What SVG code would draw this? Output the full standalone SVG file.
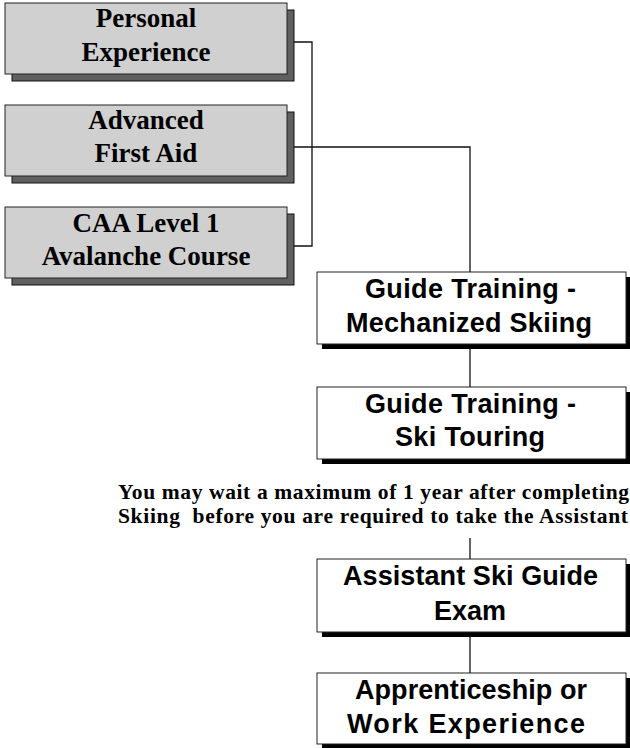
<svg xmlns="http://www.w3.org/2000/svg" width="630" height="748" viewBox="0 0 630 748">
<style>
.gbox{fill:#d0d0d0;stroke:#222;stroke-width:1}
.gsh{fill:#606060;stroke:#111;stroke-width:1}
.wbox{fill:#fff;stroke:#222;stroke-width:1}
.wsh{fill:#000}
.gt{font-family:"Liberation Serif","Times New Roman",serif;font-weight:bold;font-size:27px;fill:#000;text-anchor:middle}
.wt{font-family:"Liberation Sans",Arial,sans-serif;font-weight:bold;font-size:27px;fill:#000;text-anchor:middle}
.note{font-family:"Liberation Serif","Times New Roman",serif;font-weight:bold;font-size:21.5px;fill:#000;white-space:pre}
.conn{fill:none;stroke:#111;stroke-width:1.3}
</style>
<rect width="630" height="748" fill="#fff"/>
<g id="connectors">
<polyline class="conn" points="290,42 312,42 312,246 290,246"/>
<polyline class="conn" points="290,147 470,147 470,272"/>
<line class="conn" x1="470" y1="344" x2="470" y2="387"/>
<line class="conn" x1="470" y1="538" x2="470" y2="559"/>
<line class="conn" x1="470" y1="632" x2="470" y2="673"/>
</g>
<g id="personal-experience">
<rect class="gsh" x="12" y="10" width="282" height="71"/>
<rect class="gbox" x="5" y="3" width="282" height="71"/>
<text class="gt" x="146" y="27">Personal</text>
<text class="gt" x="146" y="61">Experience</text>
</g>
<g id="advanced-first-aid">
<rect class="gsh" x="12" y="112" width="282" height="71"/>
<rect class="gbox" x="5" y="105" width="282" height="71"/>
<text class="gt" x="146" y="129">Advanced</text>
<text class="gt" x="146" y="162">First Aid</text>
</g>
<g id="caa-level-1">
<rect class="gsh" x="12" y="214" width="282" height="71"/>
<rect class="gbox" x="5" y="207" width="282" height="71"/>
<text class="gt" x="146" y="232">CAA Level 1</text>
<text class="gt" x="146" y="265">Avalanche Course</text>
</g>
<g id="guide-training-mechanized">
<rect class="wsh" x="322" y="277" width="309" height="72"/>
<rect class="wbox" x="317" y="272" width="309" height="72"/>
<text class="wt" x="470.5" y="298" textLength="211" lengthAdjust="spacing">Guide Training -</text>
<text class="wt" x="469" y="332" textLength="246" lengthAdjust="spacing">Mechanized Skiing</text>
</g>
<g id="guide-training-touring">
<rect class="wsh" x="322" y="392" width="309" height="72"/>
<rect class="wbox" x="317" y="387" width="309" height="72"/>
<text class="wt" x="470.5" y="412.5" textLength="211" lengthAdjust="spacing">Guide Training -</text>
<text class="wt" x="470" y="446" textLength="150" lengthAdjust="spacing">Ski Touring</text>
</g>
<g id="note">
<text class="note" x="118" y="499" textLength="511" lengthAdjust="spacing">You may wait a maximum of 1 year after completing</text>
<text class="note" x="118" y="523" textLength="510" lengthAdjust="spacing">Skiing  before you are required to take the Assistant</text>
</g>
<g id="assistant-exam">
<rect class="wsh" x="322" y="564" width="309" height="73"/>
<rect class="wbox" x="317" y="559" width="309" height="73"/>
<text class="wt" x="470.5" y="585" textLength="255" lengthAdjust="spacing">Assistant Ski Guide</text>
<text class="wt" x="470" y="620">Exam</text>
</g>
<g id="apprenticeship">
<rect class="wsh" x="322" y="678" width="309" height="71"/>
<rect class="wbox" x="317" y="673" width="309" height="71"/>
<text class="wt" x="471" y="699" textLength="232" lengthAdjust="spacing">Apprenticeship or</text>
<text class="wt" x="466" y="733" textLength="238" lengthAdjust="spacing">Work Experience</text>
</g>
</svg>
